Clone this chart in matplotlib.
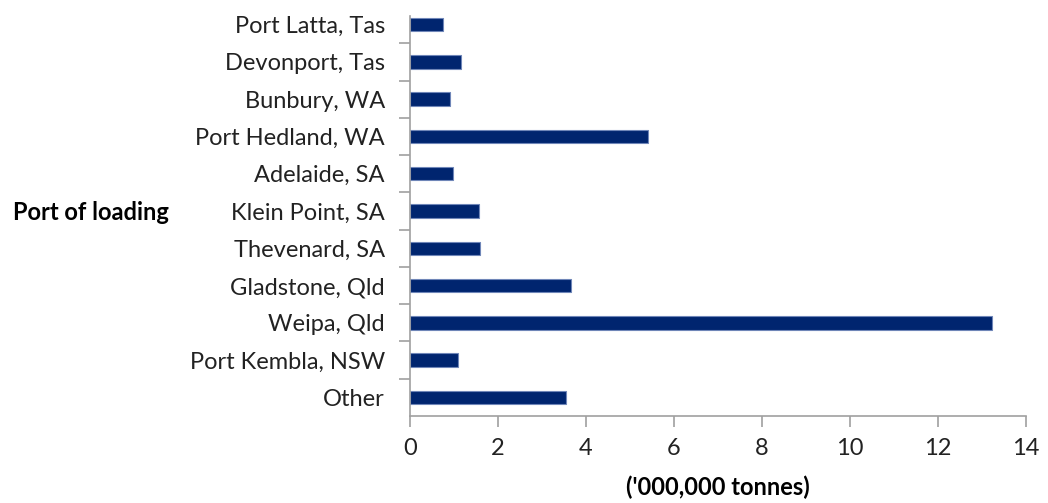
import matplotlib.pyplot as plt

# Bauxite/alumina shipments by port of loading ('000,000 tonnes), top to bottom
ports = ['Port Latta, Tas', 'Devonport, Tas', 'Bunbury, WA', 'Port Hedland, WA',
         'Adelaide, SA', 'Klein Point, SA', 'Thevenard, SA', 'Gladstone, Qld',
         'Weipa, Qld', 'Port Kembla, NSW', 'Other']
tonnes = [0.75, 1.15, 0.92, 5.41, 0.98, 1.56, 1.59, 3.66, 13.23, 1.10, 3.55]
x_ticks = [0, 2, 4, 6, 8, 10, 12, 14]

plt.rcParams['font.family'] = ['Lato', 'DejaVu Sans']

fig = plt.figure(figsize=(10.48, 5.03), dpi=100)
ax = fig.add_axes([410 / 1048, 1 - 416 / 503, 616 / 1048, 410 / 503])

pos = list(range(len(ports)))
ax.barh(pos, tonnes, height=0.36, color='#00256F', edgecolor='#6F86B8', linewidth=0.8)

ax.set_xlim(0, 14)
ax.set_ylim(len(ports) - 0.5, -0.5)
ax.set_xticks(x_ticks)
ax.set_xticklabels([str(t) for t in x_ticks], fontsize=17, color='#222222')

# category labels centred on bars, tick marks at the category boundaries
ax.set_yticks(pos)
ax.set_yticklabels(ports, fontsize=17, color='#222222')
ax.tick_params(axis='y', which='major', length=0, pad=18)
ax.set_yticks([p + 0.5 for p in pos[:-1]], minor=True)
ax.tick_params(axis='y', which='minor', length=8, width=1.2, color='#A0A0A0', direction='out')
ax.tick_params(axis='x', length=8, width=1.2, color='#A0A0A0', direction='out', pad=8)

for side in ['top', 'right']:
    ax.spines[side].set_visible(False)
for side in ['left', 'bottom']:
    ax.spines[side].set_color('#A0A0A0')
    ax.spines[side].set_linewidth(1.2)
ax.spines['left'].set_bounds(len(ports) - 0.5, -0.23)

ax.set_xlabel("('000,000 tonnes)", fontsize=17, fontweight='bold', labelpad=12)
fig.text(13 / 1048, 1 - 213 / 503, 'Port of loading', fontsize=17, fontweight='bold',
         ha='left', va='center')

plt.savefig('out.png', dpi=100)
plt.close()
